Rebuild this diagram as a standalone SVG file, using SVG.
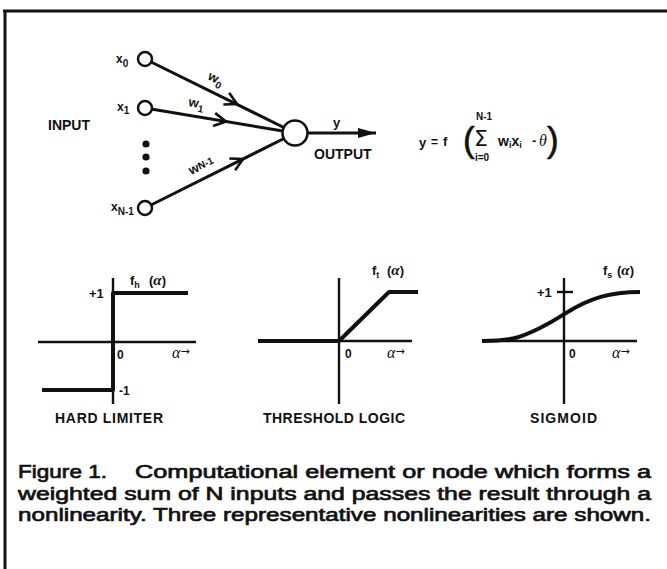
<svg xmlns="http://www.w3.org/2000/svg" width="667" height="569" viewBox="0 0 667 569">
<style>
.lbl{font-family:"Liberation Sans",Arial,sans-serif;font-weight:bold;fill:#111}
.cap{font-family:"Liberation Sans",Arial,sans-serif;font-size:19px;fill:#111;stroke:#111;stroke-width:0.7px}
.al{font-family:"Liberation Serif","Times New Roman",serif;font-style:italic;fill:#111}
.wire{stroke:#111;stroke-width:3;fill:none}
.axis{stroke:#111;stroke-width:2.4;fill:none}
.fn{stroke:#111;stroke-width:4;fill:none;stroke-linejoin:round;stroke-linecap:butt}
.node{fill:#fff;stroke:#111;stroke-width:2.5}
</style>
<defs>
<path id="chev" d="M-12,-6.5 L0,0 L-12,6.5" fill="none" stroke="#111" stroke-width="2.6" stroke-linejoin="miter"/>
<marker id="arr" markerWidth="20" markerHeight="12" refX="18" refY="5" orient="auto" markerUnits="userSpaceOnUse">
<path d="M0,0 L18,5 L0,10 Z" fill="#111"/>
</marker>
</defs>
<rect width="667" height="569" fill="#fff"/>
<!-- frame -->
<line x1="3" y1="11" x2="667" y2="11" stroke="#111" stroke-width="3"/>
<line x1="5" y1="10" x2="5" y2="569" stroke="#111" stroke-width="3"/>

<g id="connectors">
<line class="wire" x1="145" y1="59" x2="295" y2="133"/>
<line class="wire" x1="145" y1="108" x2="295" y2="133"/>
<line class="wire" x1="145" y1="208" x2="295" y2="133"/>
<line class="wire" x1="307" y1="133" x2="376" y2="133" marker-end="url(#arr)"/>
<use href="#chev" transform="translate(237,104) rotate(26.3)"/>
<use href="#chev" transform="translate(226,121.5) rotate(9.5)"/>
<use href="#chev" transform="translate(243,159) rotate(-26.6)"/>
</g>

<g id="node-x0">
<circle class="node" cx="145" cy="59" r="7"/>
<text class="lbl" x="116" y="63" font-size="12">x<tspan font-size="10" dy="4">0</tspan></text>
</g>
<g id="node-x1">
<circle class="node" cx="145" cy="108" r="7"/>
<text class="lbl" x="117" y="111" font-size="12">x<tspan font-size="10" dy="3">1</tspan></text>
</g>
<g id="node-xN1">
<circle class="node" cx="145" cy="208" r="7"/>
<text class="lbl" x="111" y="211" font-size="12">x<tspan font-size="10" dy="4">N-1</tspan></text>
</g>
<g id="dots">
<circle cx="146" cy="144" r="3.6" fill="#111"/>
<circle cx="146" cy="157" r="3.6" fill="#111"/>
<circle cx="146" cy="171" r="3.6" fill="#111"/>
</g>
<g id="node-sum">
<circle class="node" cx="295" cy="133" r="12.5"/>
</g>

<g id="labels">
<text class="lbl" x="48" y="130" font-size="14">INPUT</text>
<text class="lbl" x="314" y="159" font-size="14">OUTPUT</text>
<text class="lbl" x="333" y="127" font-size="13">y</text>
<text class="lbl" font-size="13" transform="translate(207,79) rotate(26)">w<tspan font-size="10" dy="4">0</tspan></text>
<text class="lbl" font-size="13" transform="translate(188,106) rotate(10)">w<tspan font-size="10" dy="4">1</tspan></text>
<text class="lbl" font-size="13" transform="translate(191,175) rotate(-25)">w<tspan font-size="10" dy="-1">N-1</tspan></text>
</g>

<g id="equation">
<text class="lbl" x="419" y="147" font-size="13">y</text>
<text class="lbl" x="431" y="146" font-size="12">=</text>
<text class="lbl" x="443" y="146" font-size="13">f</text>
<text x="463" y="152" font-family="Liberation Sans,Arial,sans-serif" font-size="35" fill="#111" stroke="#111" stroke-width="0.6">(</text>
<text x="474" y="146" font-family="DejaVu Sans,sans-serif" font-size="22" fill="#111">Σ</text>
<text class="lbl" x="476" y="120" font-size="10">N-1</text>
<text class="lbl" x="475" y="161" font-size="10">i=0</text>
<text class="lbl" x="498" y="146" font-size="14">w<tspan font-size="9" dy="2">i</tspan><tspan dy="-2">x</tspan><tspan font-size="9" dy="2">i</tspan></text>
<text class="lbl" x="532" y="145" font-size="13">-</text>
<text class="al" x="539" y="146" font-size="16">θ</text>
<text x="547" y="152" font-family="Liberation Sans,Arial,sans-serif" font-size="35" fill="#111" stroke="#111" stroke-width="0.6">)</text>
</g>

<g id="hard-limiter">
<line class="axis" x1="113" y1="278" x2="113" y2="404"/>
<line class="axis" x1="38" y1="342" x2="196" y2="342"/>
<path class="fn" d="M188,293 H113 V390 H42"/>
<text class="lbl" x="130" y="285" font-size="13">f<tspan font-size="9" dy="3">h</tspan><tspan dy="-3" x="149">(</tspan><tspan class="al" font-size="15">α</tspan>)</text>
<text class="lbl" x="89" y="298" font-size="13">+1</text>
<text class="lbl" x="117" y="359" font-size="12">0</text>
<text x="172" y="358" font-size="16" class="al">α<tspan font-size="11" font-style="normal" font-family="DejaVu Sans,sans-serif" dy="-3">→</tspan></text>
<text class="lbl" x="119" y="395" font-size="12">-1</text>
<text class="lbl" x="55" y="423" font-size="14" textLength="108" lengthAdjust="spacing">HARD LIMITER</text>
</g>

<g id="threshold-logic">
<line class="axis" x1="339" y1="278" x2="339" y2="404"/>
<line class="axis" x1="258" y1="341" x2="412" y2="341"/>
<path class="fn" d="M258,341 H339 L389,292 H418"/>
<text class="lbl" x="372" y="275" font-size="13">f<tspan font-size="9" dy="3">t</tspan><tspan dy="-3" x="387">(</tspan><tspan class="al" font-size="15">α</tspan>)</text>
<text class="lbl" x="345" y="358" font-size="12">0</text>
<text x="387" y="358" font-size="16" class="al">α<tspan font-size="11" font-style="normal" font-family="DejaVu Sans,sans-serif" dy="-3">→</tspan></text>
<text class="lbl" x="263" y="423" font-size="14" textLength="142" lengthAdjust="spacing">THRESHOLD LOGIC</text>
</g>

<g id="sigmoid">
<line class="axis" x1="564" y1="278" x2="564" y2="404"/>
<line class="axis" x1="482" y1="341" x2="637" y2="341"/>
<line class="axis" x1="557" y1="292" x2="573" y2="292"/>
<path class="fn" d="M482,341 C510,341 520,338 540,328 C552,322 558,318 566,313 C590,298 610,292 640,292"/>
<text class="lbl" x="603" y="275" font-size="13">f<tspan font-size="9" dy="3">s</tspan><tspan dy="-3" x="617">(</tspan><tspan class="al" font-size="15">α</tspan>)</text>
<text class="lbl" x="537" y="297" font-size="13">+1</text>
<text class="lbl" x="569" y="358" font-size="12">0</text>
<text x="612" y="358" font-size="16" class="al">α<tspan font-size="11" font-style="normal" font-family="DejaVu Sans,sans-serif" dy="-3">→</tspan></text>
<text class="lbl" x="530" y="423" font-size="14" textLength="67" lengthAdjust="spacing">SIGMOID</text>
</g>

<g id="caption">
<text class="cap" x="18" y="478" textLength="89" lengthAdjust="spacingAndGlyphs">Figure 1.</text>
<text class="cap" x="135" y="478" textLength="516" lengthAdjust="spacingAndGlyphs">Computational element or node which forms a</text>
<text class="cap" x="18" y="500" textLength="633" lengthAdjust="spacingAndGlyphs">weighted sum of N inputs and passes the result through a</text>
<text class="cap" x="18" y="521" textLength="633" lengthAdjust="spacingAndGlyphs">nonlinearity. Three representative nonlinearities are shown.</text>
</g>
</svg>
